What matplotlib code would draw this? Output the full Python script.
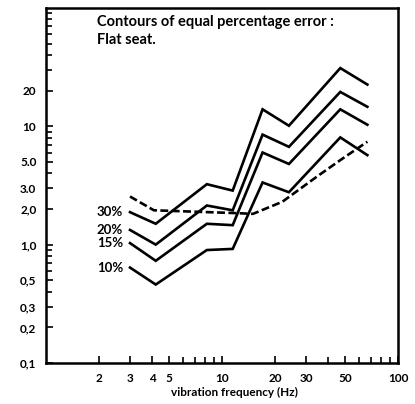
import matplotlib
matplotlib.use("Agg")
import matplotlib.pyplot as plt
from matplotlib.ticker import FixedLocator, FixedFormatter, NullFormatter

# frequency break points (Hz) shared by the solid contours
freq = [3, 4.2, 8.2, 11.5, 17, 24, 47, 67]

# equal percentage error contours, flat seat
err_30 = [1.88, 1.50, 3.24, 2.86, 13.9, 10.1, 31.0, 22.5]
err_20 = [1.33, 1.00, 2.14, 1.95, 8.5, 6.7, 19.5, 14.6]
err_15 = [1.03, 0.73, 1.50, 1.46, 6.0, 4.8, 13.9, 10.3]
err_10 = [0.64, 0.46, 0.90, 0.92, 3.35, 2.77, 8.05, 5.7]
contour_labels = ["30%", "20%", "15%", "10%"]

# dashed reference curve
dash_freq = [3, 4.1, 11.5, 15, 22, 35, 49, 67]
dash_val = [2.55, 1.95, 1.85, 1.82, 2.3, 3.8, 5.4, 7.4]

ytick_vals = [0.1, 0.2, 0.3, 0.5, 1, 2, 3, 5, 10, 20]
ytick_labels = ["0,1", "0,2", "0,3", "0,5", "1,0", "2,0", "3.0", "5.0", "10", "20"]
yminor = [0.4, 0.6, 0.7, 0.8, 0.9, 4, 6, 7, 8, 9, 30, 40, 50, 60, 70, 80, 90]
xtick_vals = [2, 3, 4, 5, 10, 20, 30, 50, 100]
xtick_labels = ["2", "3", "4", "5", "10", "20", "30", "50", "100"]
xminor = [6, 7, 8, 9, 40, 60, 70, 80, 90]

plt.rcParams['font.family'] = ['Lato', 'DejaVu Sans']

fig = plt.figure(figsize=(4.15, 4.04), dpi=100)
ax = fig.add_axes([0.111, 0.1015, 0.848, 0.879])

for vals in (err_30, err_20, err_15, err_10):
    ax.plot(freq, vals, color="black", lw=1.9, solid_joinstyle="miter")
ax.plot(dash_freq, dash_val, color="black", lw=1.9, ls=(0, (3, 1.3)))

for lab, vals in zip(contour_labels, (err_30, err_20, err_15, err_10)):
    ax.text(2.74, vals[0], lab, ha="right", va="center",
            fontsize=9.5, fontweight="bold")

ax.set_xscale("log")
ax.set_yscale("log")
ax.set_xlim(1, 100)
ax.set_ylim(0.1, 100)

ax.yaxis.set_major_locator(FixedLocator(ytick_vals))
ax.yaxis.set_major_formatter(FixedFormatter(ytick_labels))
ax.yaxis.set_minor_locator(FixedLocator(yminor))
ax.yaxis.set_minor_formatter(NullFormatter())
ax.xaxis.set_major_locator(FixedLocator(xtick_vals))
ax.xaxis.set_major_formatter(FixedFormatter(xtick_labels))
ax.xaxis.set_minor_locator(FixedLocator(xminor))
ax.xaxis.set_minor_formatter(NullFormatter())

ax.tick_params(which="both", direction="in", width=1.2, labelsize=8.5, pad=7)
ax.tick_params(which="major", length=5)
ax.tick_params(which="minor", length=4)
for lbl in ax.get_xticklabels() + ax.get_yticklabels():
    lbl.set_fontweight("bold")

for sp in ax.spines.values():
    sp.set_linewidth(1.8)

ax.set_xlabel("vibration frequency (Hz)", fontsize=8.5, fontweight="bold")
ax.xaxis.set_label_coords(0.535, -0.068)

ax.text(0.145, 0.96, "Contours of equal percentage error :",
        transform=ax.transAxes, fontsize=10.5, fontweight="bold", va="center")
ax.text(0.145, 0.91, "Flat seat.", transform=ax.transAxes,
        fontsize=10.5, fontweight="bold", va="center")

fig.savefig("out.png", dpi=100)
